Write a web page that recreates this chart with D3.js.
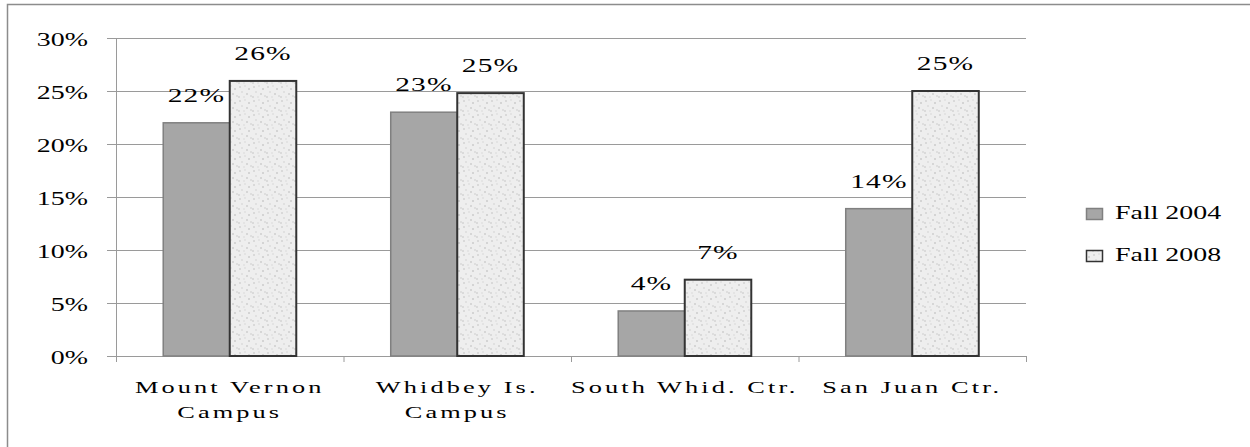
<!DOCTYPE html>
<html>
<head>
<meta charset="utf-8">
<script src="https://cdn.jsdelivr.net/npm/d3@7"></script>
<style>
  body { margin: 0; background: #fff; }
</style>
</head>
<body>
<svg id="chart" width="1250" height="447"></svg>
<script>
const categories = [["Mount Vernon", "Campus"], ["Whidbey Is.", "Campus"], ["South Whid. Ctr."], ["San Juan Ctr."]];
const series = ["Fall 2004", "Fall 2008"];
const fall2004 = [22.0, 23.0, 4.25, 13.9];
const fall2008 = [25.95, 24.8, 7.2, 25.0];
const labels2004 = ["22%", "23%", "4%", "14%"];
const labels2008 = ["26%", "25%", "7%", "25%"];
const yTicks = [0, 5, 10, 15, 20, 25, 30];

const SX = 1.55; // the picture's text is stretched sideways
const svg = d3.select("#chart");

// frame
svg.append("rect")
    .attr("x", 7.5).attr("y", 4.5)
    .attr("width", 1300).attr("height", 500)
    .attr("fill", "none").attr("stroke", "#8c8c8c").attr("stroke-width", 1.5);

// speckled fill for the second series
const defs = svg.append("defs");
const pat = defs.append("pattern")
    .attr("id", "speckle").attr("patternUnits", "userSpaceOnUse")
    .attr("width", 14).attr("height", 14);
pat.append("rect").attr("width", 14).attr("height", 14).attr("fill", "#eeeeee");
const specks = [[1, 2, "#d9d9d9"], [6, 1, "#e3e3e3"], [10, 4, "#d4d4d4"], [3, 7, "#e0e0e0"],
                [8, 9, "#d6d6d6"], [12, 11, "#dedede"], [0, 12, "#dadada"], [5, 12, "#e4e4e4"]];
specks.forEach(s => pat.append("rect").attr("x", s[0]).attr("y", s[1])
    .attr("width", 2).attr("height", 2).attr("fill", s[2]));

const x0 = d3.scaleBand().domain(d3.range(categories.length)).range([116, 1026]);
const x1 = d3.scaleBand().domain(series).range([0, x0.bandwidth()]).paddingOuter(0.71);
const y = d3.scaleLinear().domain([0, 30]).range([356, 38]);

function stext(g, x, yy, str, anchor, size) {
    return g.append("text")
        .attr("transform", `translate(${x},${yy}) scale(${SX},1)`)
        .attr("text-anchor", anchor)
        .style("font-family", "'Liberation Serif'")
        .attr("font-size", size)
        .attr("fill", "#000")
        .text(str);
}

// gridlines
svg.append("g").selectAll("line").data(yTicks).join("line")
    .attr("x1", 107).attr("x2", 1026)
    .attr("y1", d => y(d) + 0.5).attr("y2", d => y(d) + 0.5)
    .attr("stroke", "#9a9a9a").attr("stroke-width", 1);

// axes
svg.append("line").attr("x1", 116.5).attr("x2", 116.5).attr("y1", y(30)).attr("y2", y(0) + 6)
    .attr("stroke", "#9a9a9a");
svg.append("g").selectAll("line").data(d3.range(categories.length + 1)).join("line")
    .attr("x1", i => (i < categories.length ? x0(i) : 1026) + 0.5)
    .attr("x2", i => (i < categories.length ? x0(i) : 1026) + 0.5)
    .attr("y1", y(0)).attr("y2", y(0) + 6)
    .attr("stroke", "#9a9a9a");

const yl = svg.append("g");
yTicks.forEach(t => stext(yl, 88, y(t) + 8, t + "%", "end", 18));

// bars
const bars = svg.append("g");
categories.forEach((c, i) => {
    const v = [fall2004[i], fall2008[i]];
    const lab = [labels2004[i], labels2008[i]];
    series.forEach((s, j) => {
        const bx = x0(i) + x1(s);
        bars.append("rect")
            .attr("x", bx).attr("y", y(v[j]))
            .attr("width", x1.bandwidth()).attr("height", y(0) - y(v[j]))
            .attr("fill", j === 0 ? "#a6a6a6" : "url(#speckle)")
            .attr("stroke", j === 0 ? "#808080" : "#333")
            .attr("stroke-width", j === 0 ? 1.5 : 2);
        stext(bars, bx + x1.bandwidth() / 2, y(v[j]) - 21, lab[j], "middle", 19)
            .attr("letter-spacing", 0.8);
    });
    c.forEach((line, k) => {
        stext(bars, x0(i) + x0.bandwidth() / 2, 393 + k * 25, line, "middle", 17)
            .attr("letter-spacing", 2);
    });
});

// legend
const leg = svg.append("g");
series.forEach((s, j) => {
    const ly = 208 + j * 42;
    leg.append("rect").attr("x", 1086.5).attr("y", ly + 0.5).attr("width", 16).attr("height", 11)
        .attr("fill", j === 0 ? "#a6a6a6" : "url(#speckle)")
        .attr("stroke", j === 0 ? "#808080" : "#333").attr("stroke-width", 1.5);
    stext(leg, 1115, ly + 11, s, "start", 18);
});
</script>
</body>
</html>
